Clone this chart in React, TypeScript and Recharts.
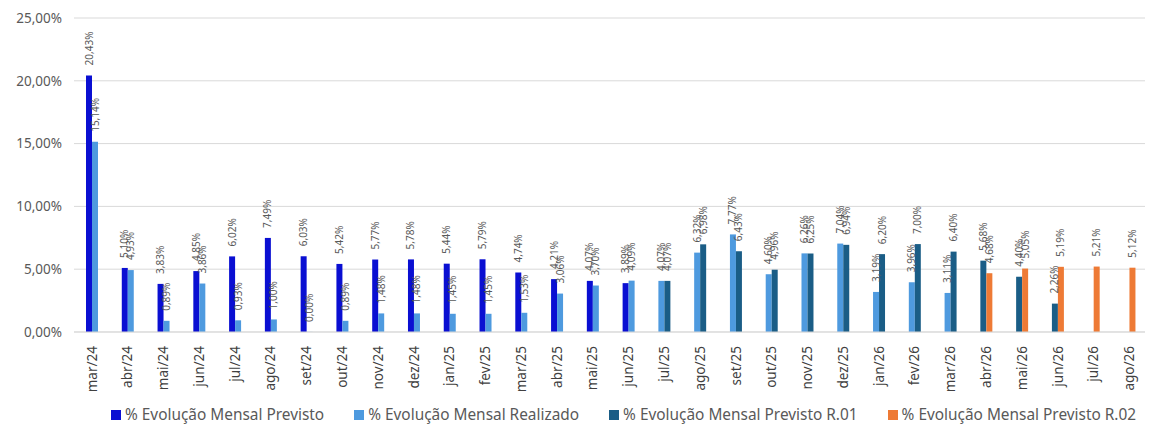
import { BarChart, Bar, XAxis, YAxis, CartesianGrid, LabelList, Cell } from 'recharts'

const months = [
  'mar/24', 'abr/24', 'mai/24', 'jun/24', 'jul/24', 'ago/24', 'set/24', 'out/24', 'nov/24', 'dez/24',
  'jan/25', 'fev/25', 'mar/25', 'abr/25', 'mai/25', 'jun/25', 'jul/25', 'ago/25', 'set/25', 'out/25',
  'nov/25', 'dez/25', 'jan/26', 'fev/26', 'mar/26', 'abr/26', 'mai/26', 'jun/26', 'jul/26', 'ago/26',
  'set/26',
]

const previsto = [
  20.43, 5.1, 3.83, 4.85, 6.02, 7.49, 6.03, 5.42, 5.77, 5.78,
  5.44, 5.79, 4.74, 4.21, 4.07, 3.89, null, null, null, null,
  null, null, null, null, null, null, null, null, null, null, null,
]
const realizado = [
  15.14, 4.93, 0.89, 3.86, 0.93, 1.0, 0.0, 0.89, 1.48, 1.48,
  1.45, 1.45, 1.53, 3.06, 3.7, 4.09, 4.07, 6.32, 7.77, 4.6,
  6.26, 7.04, 3.19, 3.96, 3.11, null, null, null, null, null, null,
]
const previstoR01 = [
  null, null, null, null, null, null, null, null, null, null,
  null, null, null, null, null, null, 4.07, 6.98, 6.43, 4.96,
  6.25, 6.94, 6.2, 7.0, 6.4, 5.68, 4.4, 2.26, null, null, null,
]
const previstoR02 = [
  null, null, null, null, null, null, null, null, null, null,
  null, null, null, null, null, null, null, null, null, null,
  null, null, null, null, null, 4.68, 5.05, 5.19, 5.21, 5.12, null,
]

const yTicks = [0, 5, 10, 15, 20, 25]

const series = [
  { name: '% Evolução Mensal Previsto', color: '#0A0FD2', values: previsto },
  { name: '% Evolução Mensal Realizado', color: '#4E9ADF', values: realizado },
  { name: '% Evolução Mensal Previsto R.01', color: '#1A5D86', values: previstoR01 },
  { name: '% Evolução Mensal Previsto R.02', color: '#EE7A35', values: previstoR02 },
]

// each month shows at most two bars: the last series with a value sits on the right, the other on the left
const data = months.map((m, i) => {
  const present = series
    .map((s, k) => ({ v: s.values[i], k }))
    .filter((p) => p.v !== null)
  const right = present[present.length - 1]
  const left = present.length > 1 ? present[0] : undefined
  return {
    month: m,
    left: left ? left.v : null,
    leftColor: left ? series[left.k].color : 'none',
    right: right ? right.v : null,
    rightColor: right ? series[right.k].color : 'none',
  }
})

const pct = (v: number) => `${v.toFixed(2).replace('.', ',')}%`
const font = '"Noto Sans", sans-serif'

const MonthTick = ({ x, y, payload }: any) => (
  <text
    transform={`translate(${x},${y + 6}) rotate(-90)`}
    textAnchor="end"
    dy="0.35em"
    fontSize={13.5}
    fontFamily={font}
    fill="#404040"
  >
    {payload.value}
  </text>
)

const ValueLabel = ({ x, y, width, value }: any) => {
  if (value === null || value === undefined) return null
  const cx = x + width / 2
  return (
    <text
      transform={`translate(${cx},${y - 10}) rotate(-90)`}
      textAnchor="start"
      dy="0.35em"
      fontSize={10}
      fontFamily={font}
      fill="#595959"
    >
      {pct(Number(value))}
    </text>
  )
}

// a zero value still gets a (hair-thin) bar so its label is drawn
const zeroStub = (v: any) => (v === 0 ? 0.1 : 0)

export default function App() {
  return (
    <div style={{ position: 'relative', width: 1145, height: 417, overflow: 'hidden' }}>
      <BarChart
        width={1175}
        height={400}
        data={data}
        margin={{ top: 10, right: 0, left: 0, bottom: 0 }}
        barGap={0}
        barCategoryGap="33%"
      >
        <CartesianGrid stroke="#D9D9D9" vertical={false} />
        <XAxis
          dataKey="month"
          interval={0}
          height={76}
          tick={<MonthTick />}
          tickLine={false}
          axisLine={{ stroke: '#D9D9D9' }}
        />
        <YAxis
          domain={[0, 25]}
          ticks={yTicks}
          tickFormatter={pct}
          width={66}
          tickMargin={6}
          axisLine={false}
          tickLine={false}
          tick={{ fontSize: 13.5, fill: '#595959', fontFamily: font }}
        />
        <Bar dataKey="left" barSize={6} minPointSize={zeroStub} isAnimationActive={false}>
          {data.map((d) => (
            <Cell key={d.month} fill={d.leftColor} />
          ))}
          <LabelList dataKey="left" content={<ValueLabel />} />
        </Bar>
        <Bar dataKey="right" barSize={6} minPointSize={zeroStub} isAnimationActive={false}>
          {data.map((d) => (
            <Cell key={d.month} fill={d.rightColor} />
          ))}
          <LabelList dataKey="right" content={<ValueLabel />} />
        </Bar>
      </BarChart>
      <div
        style={{
          position: 'absolute',
          top: 396,
          left: 103,
          display: 'flex',
          gap: 30,
          fontFamily: font,
          fontSize: 15.4,
          color: '#595959',
          whiteSpace: 'nowrap',
        }}
      >
        {series.map((s) => (
          <div key={s.name} style={{ display: 'flex', alignItems: 'center' }}>
            <span
              style={{ width: 10, height: 10, background: s.color, display: 'inline-block', marginRight: 4 }}
            />
            {s.name}
          </div>
        ))}
      </div>
    </div>
  )
}
